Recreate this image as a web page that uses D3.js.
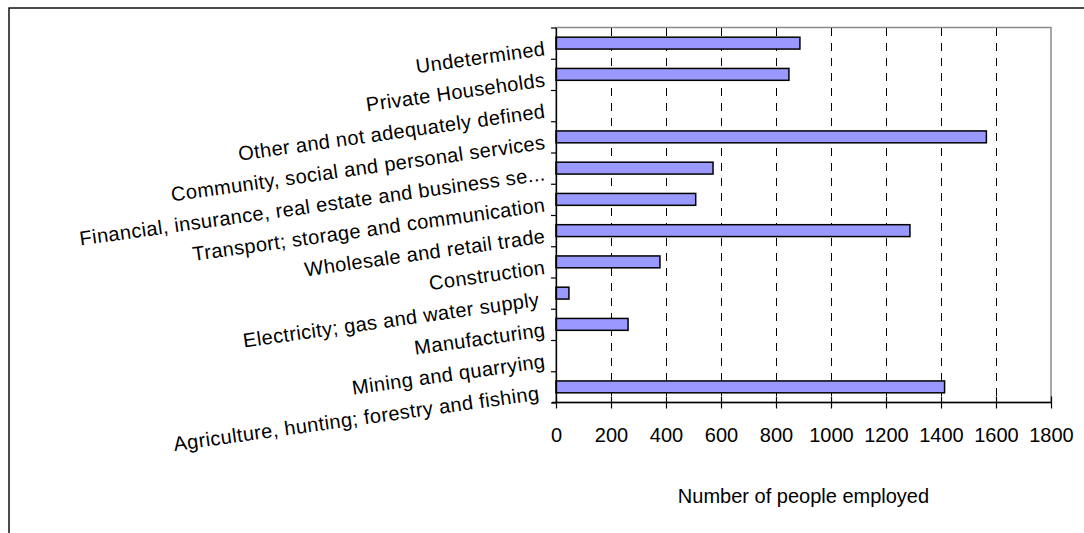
<!DOCTYPE html>
<html>
<head>
<meta charset="utf-8">
<script src="https://cdn.jsdelivr.net/npm/d3@7"></script>
<style>
  html, body { margin: 0; padding: 0; background: #fff; }
  svg { display: block; font-family: Arial, "Liberation Sans", Helvetica, sans-serif; }
</style>
</head>
<body>
<svg id="chart" width="1084" height="533"></svg>
<script>
// Employment by industry (top to bottom as drawn)
const categories = [
  "Undetermined",
  "Private Households",
  "Other and not adequately defined",
  "Community, social and personal services",
  "Financial, insurance, real estate and business se...",
  "Transport; storage and communication",
  "Wholesale and retail trade",
  "Construction",
  "Electricity; gas and water supply ",
  "Manufacturing",
  "Mining and quarrying",
  "Agriculture, hunting; forestry and fishing "
];
const employed = [887, 847, 0, 1565, 571, 508, 1287, 378, 47, 262, 0, 1413];
const xTicks = [0, 200, 400, 600, 800, 1000, 1200, 1400, 1600, 1800];
const xTitle = "Number of people employed";

const svg = d3.select("#chart");
const plot = { left: 556, right: 1051, top: 27.5, bottom: 402.5 };

// outer chart frame
svg.append("rect")
  .attr("x", 9).attr("y", 8)
  .attr("width", 1100).attr("height", 600)
  .attr("fill", "#fff").attr("stroke", "#000").attr("stroke-width", 1.4);

const x = d3.scaleLinear().domain([0, 1800]).range([plot.left, plot.right]);
const y = d3.scaleBand().domain(categories)
  .range([plot.top, plot.bottom])
  .paddingInner(0.62).paddingOuter(0.31);
const yEdge = d3.scaleLinear().domain([0, categories.length]).range([plot.top, plot.bottom]);

// plot area border
svg.append("rect")
  .attr("x", plot.left).attr("y", plot.top)
  .attr("width", plot.right - plot.left).attr("height", plot.bottom - plot.top)
  .attr("fill", "#fff").attr("stroke", "#8a8a8a").attr("stroke-width", 1.5);

// dashed vertical gridlines
svg.append("g")
  .selectAll("line")
  .data(xTicks.filter(d => d > 0 && d < 1800))
  .join("line")
  .attr("x1", d => x(d)).attr("x2", d => x(d))
  .attr("y1", plot.top).attr("y2", plot.bottom)
  .attr("stroke", "#000").attr("stroke-width", 1)
  .attr("stroke-dasharray", "8,7")
  .attr("shape-rendering", "crispEdges");

// bars
svg.append("g")
  .selectAll("rect")
  .data(categories.map((c, i) => ({ c, v: employed[i] })).filter(d => d.v > 0))
  .join("rect")
  .attr("x", x(0))
  .attr("y", d => y(d.c))
  .attr("width", d => x(d.v) - x(0))
  .attr("height", y.bandwidth())
  .attr("fill", "#9999FF")
  .attr("stroke", "#000")
  .attr("stroke-width", 1.5);

// x axis
const xAxis = svg.append("g")
  .attr("transform", `translate(0,${plot.bottom})`)
  .call(d3.axisBottom(x).tickValues(xTicks).tickFormat(d3.format("d"))
    .tickSizeInner(6).tickSizeOuter(0).tickPadding(19.3));
xAxis.select(".domain").attr("d", `M${plot.left - 4},0H${plot.right}`)
  .attr("stroke", "#000").attr("stroke-width", 1.3);
xAxis.selectAll(".tick line").attr("y1", -6).attr("stroke", "#000").attr("stroke-width", 1.2);
xAxis.selectAll(".tick text")
  .attr("font-size", 20).attr("fill", "#000")
  .attr("font-family", "Arial, 'Liberation Sans', sans-serif");

// y axis with ticks between categories
const yAxis = svg.append("g")
  .attr("transform", `translate(${plot.left},0)`)
  .call(d3.axisLeft(yEdge).tickValues(d3.range(categories.length + 1))
    .tickFormat("").tickSizeInner(5).tickSizeOuter(0));
yAxis.select(".domain").attr("stroke", "#000").attr("stroke-width", 1.3);
yAxis.selectAll(".tick line").attr("stroke", "#000").attr("stroke-width", 1.2);

// rotated category labels
svg.append("g")
  .selectAll("text")
  .data(categories)
  .join("text")
  .attr("transform", d => `translate(546,${y(d) + y.bandwidth() / 2 + 12}) rotate(-8)`)
  .attr("text-anchor", "end")
  .attr("font-size", 20)
  .attr("letter-spacing", 0.4)
  .style("white-space", "pre")
  .attr("fill", "#000")
  .text(d => d);

// x axis title
svg.append("text")
  .attr("x", (plot.left + plot.right) / 2)
  .attr("y", 503)
  .attr("text-anchor", "middle")
  .attr("font-size", 20)
  .attr("fill", "#000")
  .text(xTitle);
</script>
</body>
</html>
